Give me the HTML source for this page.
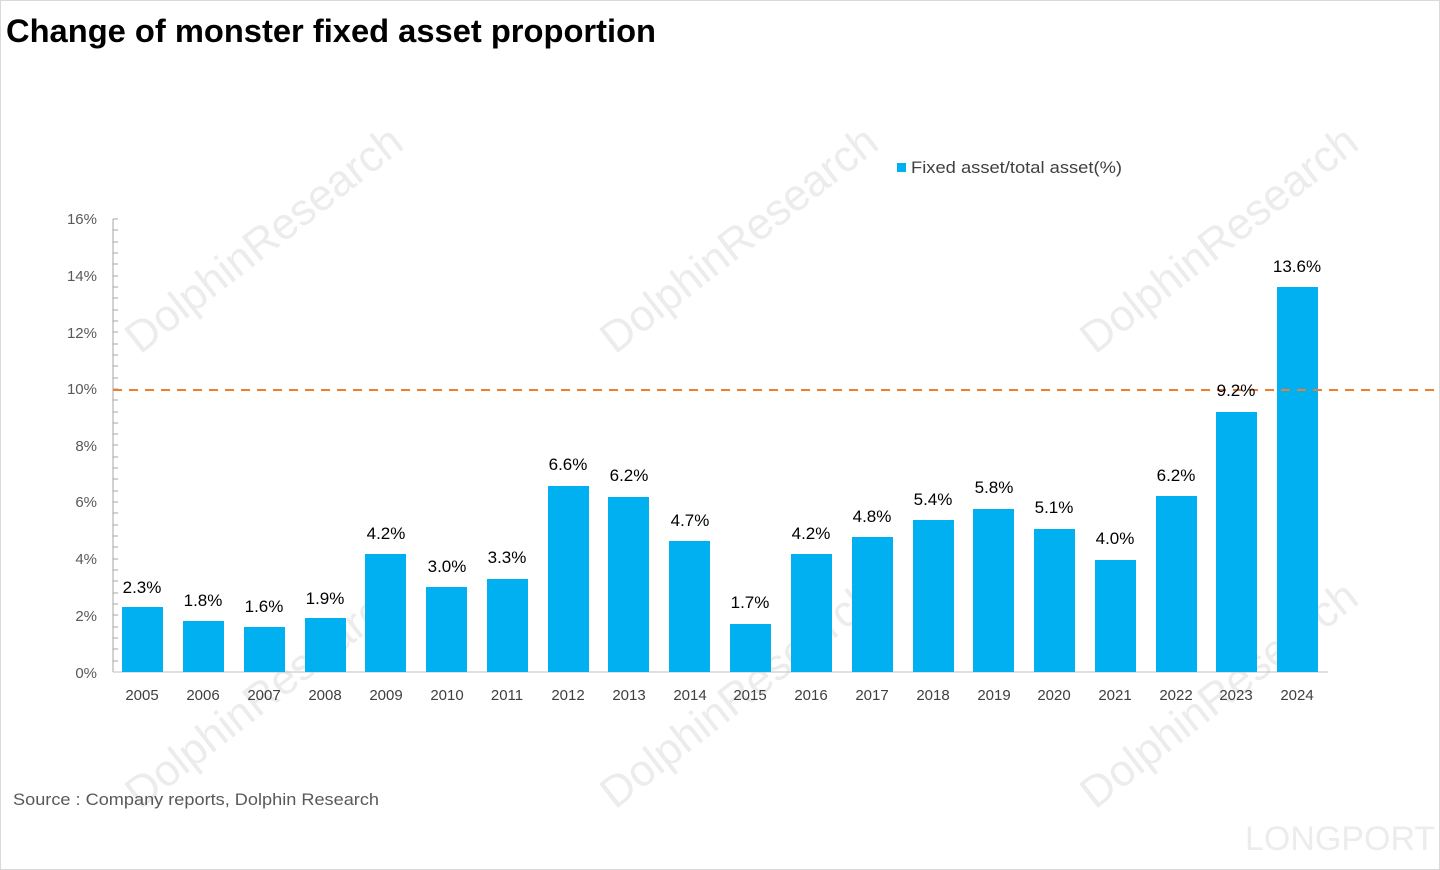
<!DOCTYPE html>
<html><head><meta charset="utf-8"><style>
body{margin:0;background:#fff;}
svg{display:block;font-family:"Liberation Sans","Noto Sans CJK SC",sans-serif;}
</style></head><body>
<svg width="1440" height="870" viewBox="0 0 1440 870">
<rect x="0.5" y="0.5" width="1439" height="869" fill="#fff" stroke="#d9d9d9"/>
<text x="6" y="42" font-size="32" font-weight="bold" fill="#000" textLength="650" lengthAdjust="spacingAndGlyphs">Change of monster fixed asset proportion</text>
<g fill="#ececec" font-size="44">
<text transform="translate(140,355) rotate(-38)">DolphinResearch</text>
<text transform="translate(615,355) rotate(-38)">DolphinResearch</text>
<text transform="translate(1095,355) rotate(-38)">DolphinResearch</text>
<text transform="translate(140,810) rotate(-38)">DolphinResearch</text>
<text transform="translate(615,810) rotate(-38)">DolphinResearch</text>
<text transform="translate(1095,810) rotate(-38)">DolphinResearch</text>
<text x="1245" y="850" font-size="34">LONGPORT</text>
</g>
<rect x="897" y="163" width="9" height="9" fill="#00b0f0"/>
<text x="911" y="173" font-size="17" fill="#404040" textLength="211" lengthAdjust="spacingAndGlyphs">Fixed asset/total asset(%)</text>
<g font-size="15" fill="#595959" text-anchor="end">
<text x="97" y="224">16%</text><text x="97" y="281">14%</text><text x="97" y="338">12%</text>
<text x="97" y="394">10%</text><text x="97" y="451">8%</text><text x="97" y="507">6%</text>
<text x="97" y="564">4%</text><text x="97" y="621">2%</text><text x="97" y="678">0%</text>
</g>
<path d="M113 219V672M113 219h5M113 230h5M113 242h5M113 253h5M113 264h5M113 276h5M113 287h5M113 298h5M113 310h5M113 321h5M113 332h5M113 344h5M113 355h5M113 366h5M113 378h5M113 389h5M113 400h5M113 412h5M113 423h5M113 434h5M113 445h5M113 457h5M113 468h5M113 479h5M113 491h5M113 502h5M113 513h5M113 525h5M113 536h5M113 547h5M113 559h5M113 570h5M113 581h5M113 593h5M113 604h5M113 615h5M113 627h5M113 638h5M113 649h5M113 661h5" stroke="#a6a6a6" stroke-width="1"/>
<line x1="113" y1="672" x2="1328" y2="672" stroke="#bfbfbf"/>
<g fill="#00b0f0">
<rect x="122" y="607" width="41" height="65"/>
<rect x="183" y="621" width="41" height="51"/>
<rect x="244" y="627" width="41" height="45"/>
<rect x="305" y="618" width="41" height="54"/>
<rect x="365" y="554" width="41" height="118"/>
<rect x="426" y="587" width="41" height="85"/>
<rect x="487" y="579" width="41" height="93"/>
<rect x="548" y="486" width="41" height="186"/>
<rect x="608" y="497" width="41" height="175"/>
<rect x="669" y="541" width="41" height="131"/>
<rect x="730" y="624" width="41" height="48"/>
<rect x="791" y="554" width="41" height="118"/>
<rect x="852" y="537" width="41" height="135"/>
<rect x="913" y="520" width="41" height="152"/>
<rect x="973" y="509" width="41" height="163"/>
<rect x="1034" y="529" width="41" height="143"/>
<rect x="1095" y="560" width="41" height="112"/>
<rect x="1156" y="496" width="41" height="176"/>
<rect x="1216" y="412" width="41" height="260"/>
<rect x="1277" y="287" width="41" height="385"/>
</g>
<line x1="113" y1="390" x2="1440" y2="390" stroke="#ed7d31" stroke-width="2" stroke-dasharray="9,7"/>
<g font-size="17" fill="#000" text-anchor="middle">
<text x="142" y="593">2.3%</text><text x="203" y="606">1.8%</text><text x="264" y="612">1.6%</text>
<text x="325" y="604">1.9%</text><text x="386" y="539">4.2%</text><text x="447" y="572">3.0%</text>
<text x="507" y="563">3.3%</text><text x="568" y="470">6.6%</text><text x="629" y="481">6.2%</text>
<text x="690" y="526">4.7%</text><text x="750" y="608">1.7%</text><text x="811" y="539">4.2%</text>
<text x="872" y="522">4.8%</text><text x="933" y="505">5.4%</text><text x="994" y="493">5.8%</text>
<text x="1054" y="513">5.1%</text><text x="1115" y="544">4.0%</text><text x="1176" y="481">6.2%</text>
<text x="1236" y="396">9.2%</text><text x="1297" y="272">13.6%</text>
</g>
<g font-size="15" fill="#404040" text-anchor="middle">
<text x="142" y="700">2005</text><text x="203" y="700">2006</text><text x="264" y="700">2007</text>
<text x="325" y="700">2008</text><text x="386" y="700">2009</text><text x="447" y="700">2010</text>
<text x="507" y="700">2011</text><text x="568" y="700">2012</text><text x="629" y="700">2013</text>
<text x="690" y="700">2014</text><text x="750" y="700">2015</text><text x="811" y="700">2016</text>
<text x="872" y="700">2017</text><text x="933" y="700">2018</text><text x="994" y="700">2019</text>
<text x="1054" y="700">2020</text><text x="1115" y="700">2021</text><text x="1176" y="700">2022</text>
<text x="1236" y="700">2023</text><text x="1297" y="700">2024</text>
</g>
<text x="13" y="805" font-size="17" fill="#595959" textLength="366" lengthAdjust="spacingAndGlyphs">Source : Company reports, Dolphin Research</text>
</svg>
</body></html>
